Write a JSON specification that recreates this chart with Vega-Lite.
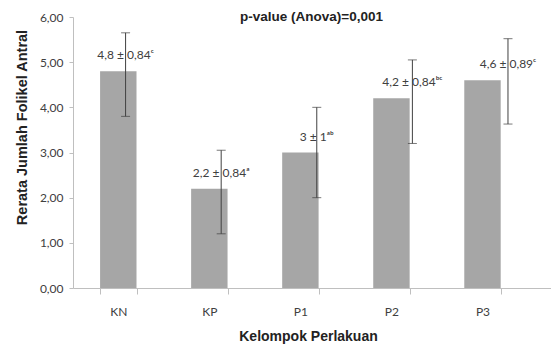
{
  "$schema": "https://vega.github.io/schema/vega-lite/v6.json",
  "autosize": "none",
  "width": 478,
  "height": 271,
  "padding": {"left": 73, "top": 17, "right": 0, "bottom": 61},
  "background": "white",
  "title": {
    "text": "p-value (Anova)=0,001",
    "font": "Liberation Sans",
    "fontSize": 13.5,
    "fontWeight": "bold",
    "color": "#222222",
    "anchor": "start",
    "frame": "group",
    "dx": 167,
    "offset": -12,
    "baseline": "top"
  },
  "data": {
    "values": [
      {"group": "KN", "mean": 4.8, "low": 3.8, "high": 5.65, "label": "4,8 ± 0,84ᶜ"},
      {"group": "KP", "mean": 2.2, "low": 1.2, "high": 3.05, "label": "2,2 ± 0,84ᵃ"},
      {"group": "P1", "mean": 3.0, "low": 2.0, "high": 4.0, "label": "3 ± 1ᵃᵇ"},
      {"group": "P2", "mean": 4.2, "low": 3.2, "high": 5.05, "label": "4,2 ± 0,84ᵇᶜ"},
      {"group": "P3", "mean": 4.6, "low": 3.63, "high": 5.52, "label": "4,6 ± 0,89ᶜ"}
    ]
  },
  "config": {
    "view": {"stroke": null},
    "axis": {
      "labelFont": "Lato",
      "labelFontSize": 12,
      "labelColor": "#404040",
      "titleFont": "Liberation Sans",
      "titleFontSize": 14,
      "titleFontWeight": "bold",
      "titleColor": "#222222",
      "domainColor": "#bfbfbf",
      "tickColor": "#bfbfbf",
      "grid": false
    }
  },
  "layer": [
    {
      "mark": {"type": "bar", "color": "#a6a6a6"},
      "encoding": {
        "x": {
          "field": "group",
          "type": "nominal",
          "sort": null,
          "scale": {"paddingInner": 0.6, "paddingOuter": 0.425, "align": 0.35},
          "axis": {
            "title": "Kelompok Perlakuan",
            "labelAngle": 0,
            "tickBand": "extent",
            "tickSize": 6,
            "labelPadding": 12,
            "titlePadding": 12,
            "titleX": 235
          }
        },
        "y": {
          "field": "mean",
          "type": "quantitative",
          "scale": {"domain": [0, 6], "nice": false},
          "axis": {
            "title": "Rerata Jumlah Folikel Antral",
            "titleFontSize": 14.5,
            "values": [0, 1, 2, 3, 4, 5, 6],
            "labelExpr": "replace(format(datum.value, '.2f'), '.', ',')",
            "tickSize": 4,
            "labelPadding": 6,
            "titlePadding": 10,
            "titleY": 110
          }
        }
      }
    },
    {
      "layer": [
        {
          "mark": {"type": "rule", "color": "#404040", "strokeWidth": 1},
          "encoding": {
            "y": {"field": "low", "type": "quantitative"},
            "y2": {"field": "high"}
          }
        },
        {
          "mark": {"type": "tick", "color": "#404040", "size": 9, "thickness": 1, "orient": "horizontal"},
          "encoding": {"y": {"field": "low", "type": "quantitative"}}
        },
        {
          "mark": {"type": "tick", "color": "#404040", "size": 9, "thickness": 1, "orient": "horizontal"},
          "encoding": {"y": {"field": "high", "type": "quantitative"}}
        },
        {
          "mark": {"type": "text", "font": "Lato", "fontSize": 12, "color": "#404040", "baseline": "middle", "dy": -16},
          "encoding": {
            "y": {"field": "mean", "type": "quantitative"},
            "text": {"field": "label"}
          }
        }
      ],
      "encoding": {
        "x": {
          "field": "group",
          "type": "ordinal",
          "sort": null,
          "scale": {"type": "point", "padding": 0.5, "align": 0.55},
          "axis": null
        }
      }
    }
  ],
  "resolve": {"scale": {"x": "independent"}}
}
